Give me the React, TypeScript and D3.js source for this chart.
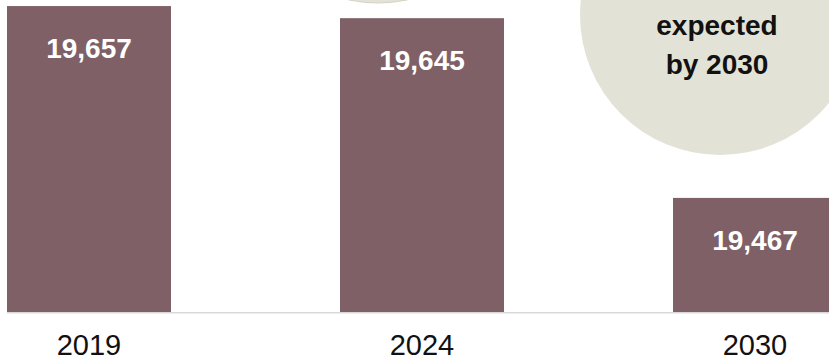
import React from "react";
import * as d3 from "d3";

const categories = ["2019", "2024", "2030"];
const values = [19657, 19645, 19467];
const calloutLines = ["expected", "by 2030"];

const W = 829;
const H = 360;
const FONT = "'Liberation Sans', Arial, Helvetica, sans-serif";
const BAR = "#7e6066";
const CIRCLE = "#e3e2d6";

export default function App() {
  const x = d3
    .scaleBand<string>()
    .domain(categories)
    .range([7, 7 + 333 * 2 + 164])
    .paddingInner(169 / 333)
    .paddingOuter(0);
  const y = d3.scaleLinear().domain([19354, 19663]).range([312, 0]);
  const fmt = d3.format(",");

  return (
    <svg
      width={W}
      height={H}
      style={{ position: "absolute", left: 0, top: 0, overflow: "hidden" }}
      fontFamily={FONT}
    >
      <rect x={0} y={0} width={W} height={H} fill="#ffffff" />
      <circle cx={378} cy={-137} r={140} fill={CIRCLE} stroke="#d4d2c4" strokeWidth={1} />
      {categories.map((c, i) => {
        const bx = x(c)!;
        const bw = x.bandwidth();
        const top = y(values[i]);
        return <rect key={c} x={bx} y={top} width={bw} height={312 - top} fill={BAR} />;
      })}
      <circle cx={720} cy={15} r={140} fill={CIRCLE} />
      {calloutLines.map((t, i) => (
        <text
          key={t}
          x={717}
          y={34.5 + i * 39.5}
          textAnchor="middle"
          fontSize={28}
          fontWeight="bold"
          fill="#111"
        >
          {t}
        </text>
      ))}
      {categories.map((c, i) => {
        const bx = x(c)!;
        const bw = x.bandwidth();
        const top = y(values[i]);
        return (
          <g key={"l" + c}>
            <text
              x={bx + bw / 2}
              y={top + 52}
              textAnchor="middle"
              fontSize={28}
              fontWeight="bold"
              fill="#ffffff"
            >
              {fmt(values[i])}
            </text>
            <text x={bx + bw / 2} y={355} textAnchor="middle" fontSize={29} fill="#111">
              {c}
            </text>
          </g>
        );
      })}
      <line x1={7} x2={W} y1={312.75} y2={312.75} stroke="#d9d9d9" strokeWidth={1.5} />
    </svg>
  );
}
